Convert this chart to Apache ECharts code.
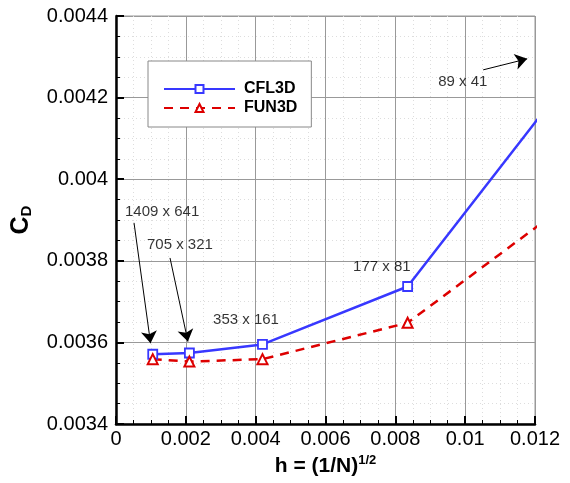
<!DOCTYPE html>
<html>
<head>
<meta charset="utf-8">
<script src="https://cdn.jsdelivr.net/npm/echarts@6/dist/echarts.min.js"></script>
<style>html,body{margin:0;padding:0;background:#fff}#c{width:570px;height:483px}</style>
</head>
<body>
<div id="c"></div>
<script>
// grid spacing h = (1/N)^(1/2)
const hValues = [0.001052, 0.002102, 0.004195, 0.008352, 0.01655];
const cfl3d = [0.003571, 0.003574, 0.003595, 0.003737, 0.004640];
const fun3d = [0.003559, 0.003553, 0.003559, 0.003648, 0.004170];
const xTicks = ['0', '0.002', '0.004', '0.006', '0.008', '0.01', '0.012'];
const yTicks = ['0.0034', '0.0036', '0.0038', '0.004', '0.0042', '0.0044'];
// annotation labels (text, x, y in data units)
const annoLabels = [
  ['1409 x 641', 0.000258, 0.003920],
  ['705 x 321', 0.000888, 0.003839],
  ['353 x 161', 0.00278, 0.003655],
  ['177 x 81', 0.00679, 0.003785],
  ['89 x 41', 0.009226, 0.004238]
];
// arrows [x0,y0,x1,y1]
const annoArrows = [
  [0.000516, 0.003893, 0.000990, 0.003598],
  [0.001547, 0.003807, 0.002060, 0.003602],
  [0.010516, 0.004268, 0.011777, 0.004295]
];

const chart = echarts.init(document.getElementById('c'));
const font = 'Liberation Sans, Arial, Helvetica, sans-serif';
const fmt = (arr, step, base) => v => {
  const i = Math.round((v - base) / step);
  return arr[i] !== undefined ? arr[i] : '';
};
chart.setOption({
  animation: false,
  grid: { left: 116, right: 35, top: 16, bottom: 59, show: true, borderColor: '#999', borderWidth: 1 },
  legend: {
    orient: 'vertical', left: 148, top: 61,
    backgroundColor: '#fff', borderColor: '#888', borderWidth: 1,
    padding: [20, 14, 11, 15], itemWidth: 71, itemHeight: 10, itemGap: 3,
    textStyle: { fontFamily: font, fontWeight: 'bold', fontSize: 16, color: '#000', padding: [0,0,0,4] },
    data: ['CFL3D', 'FUN3D']
  },
  xAxis: {
    type: 'value', min: 0, max: 0.012, interval: 0.002,
    name: '{a|h = (1/N)}{s|1/2}', nameLocation: 'middle', nameGap: 28,
    nameTextStyle: { rich: {
      a: { fontFamily: font, fontWeight: 'bold', fontSize: 21, color: '#000' },
      s: { fontFamily: font, fontWeight: 'bold', fontSize: 13, color: '#000', verticalAlign: 'top', padding: [0,0,12,0] }
    } },
    axisLine: { show: true, lineStyle: { color: '#000', width: 2.5 } },
    axisTick: { show: true, inside: true, length: 8, lineStyle: { color: '#000', width: 2 } },
    minorTick: { show: true, splitNumber: 4, length: 4, lineStyle: { color: '#000', width: 1 } },
    axisLabel: { fontFamily: font, fontSize: 20, color: '#000', margin: 5, formatter: fmt(xTicks, 0.002, 0) },
    splitLine: { show: true, lineStyle: { color: '#999', width: 1 } },
    minorSplitLine: { show: true, lineStyle: { color: '#ddd', width: 1, type: [1, 3] } }
  },
  yAxis: {
    type: 'value', min: 0.0034, max: 0.0044, interval: 0.0002,
    name: '{a|C}{s|D}', nameLocation: 'middle', nameGap: 82,
    nameTextStyle: { rich: {
      a: { fontFamily: font, fontWeight: 'bold', fontSize: 25, color: '#000' },
      s: { fontFamily: font, fontWeight: 'bold', fontSize: 15, color: '#000', verticalAlign: 'bottom', padding: [10,0,0,0] }
    } },
    axisLine: { show: true, lineStyle: { color: '#000', width: 2.5 } },
    axisTick: { show: true, inside: true, length: 8, lineStyle: { color: '#000', width: 2 } },
    minorTick: { show: true, splitNumber: 4, length: 4, lineStyle: { color: '#000', width: 1 } },
    axisLabel: { fontFamily: font, fontSize: 20, color: '#000', margin: 8, formatter: fmt(yTicks, 0.0002, 0.0034) },
    splitLine: { show: true, lineStyle: { color: '#999', width: 1 } },
    minorSplitLine: { show: true, lineStyle: { color: '#ddd', width: 1, type: [1, 3] } }
  },
  series: [
    {
      name: 'CFL3D', type: 'line', data: hValues.map((h, i) => [h, cfl3d[i]]),
      symbol: 'rect', symbolSize: 9, showAllSymbol: true,
      lineStyle: { color: '#3838ff', width: 2.5 },
      itemStyle: { color: '#fff', borderColor: '#3838ff', borderWidth: 1.8 },
      clip: true, z: 3
    },
    {
      name: 'FUN3D', type: 'line', data: hValues.map((h, i) => [h, fun3d[i]]),
      symbol: 'triangle', symbolSize: 10,
      lineStyle: { color: '#dd0000', width: 2.5, type: [9, 7] },
      itemStyle: { color: '#fff', borderColor: '#dd0000', borderWidth: 2 },
      clip: true, z: 3
    },
    {
      type: 'scatter', data: annoLabels.map(a => ({ name: a[0], value: [a[1], a[2]] })),
      symbolSize: 0, silent: true, legendHoverLink: false,
      label: { show: true, position: 'right', distance: 0, formatter: p => p.name,
        fontFamily: font, fontSize: 15, color: '#000' }
    },
    {
      type: 'lines', coordinateSystem: 'cartesian2d', silent: true,
      data: annoArrows.map(a => ({ coords: [[a[0], a[1]], [a[2], a[3]]] })),
      symbol: ['none', 'arrow'], symbolSize: [0, 12],
      lineStyle: { color: '#000', width: 1, opacity: 1, curveness: 0 }, z: 4
    }
  ]
});
</script>
</body>
</html>
